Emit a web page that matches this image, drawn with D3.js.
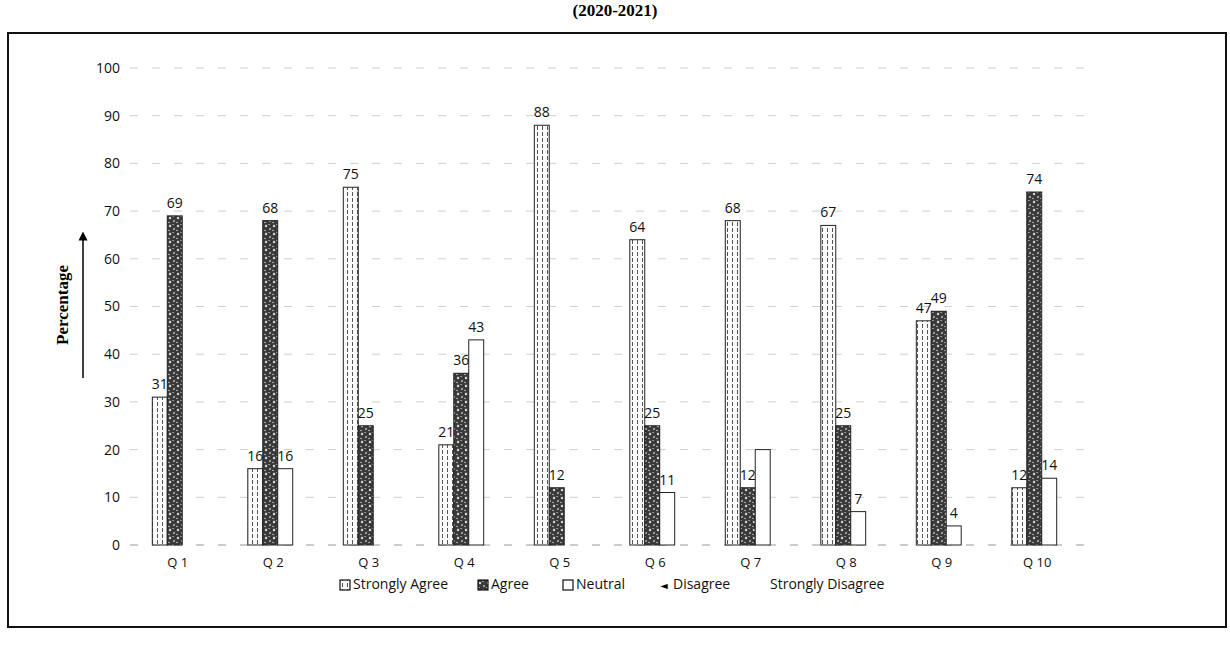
<!DOCTYPE html>
<html>
<head>
<meta charset="utf-8">
<script src="https://cdn.jsdelivr.net/npm/d3@7"></script>
<style>
  body { margin: 0; background: #fff; }
  svg text { font-family: "Open Sans", "DejaVu Sans", sans-serif; }
</style>
</head>
<body>
<div id="chart"></div>
<script>
const width = 1230;
const height = 647;

// values
const questions = ["Q 1", "Q 2", "Q 3", "Q 4", "Q 5", "Q 6", "Q 7", "Q 8", "Q 9", "Q 10"];
const stronglyAgree = [31, 16, 75, 21, 88, 64, 68, 67, 47, 12];
const agree = [69, 68, 25, 36, 12, 25, 12, 25, 49, 74];
const neutral = [0, 16, 0, 43, 0, 11, 20, 7, 4, 14];
const disagree = [0, 0, 0, 0, 0, 0, 0, 0, 0, 0];
const stronglyDisagree = [0, 0, 0, 0, 0, 0, 0, 0, 0, 0];
const yTicks = [0, 10, 20, 30, 40, 50, 60, 70, 80, 90, 100];
const seriesNames = ["Strongly Agree", "Agree", "Neutral", "Disagree", "Strongly Disagree"];
// Q7 neutral carries no label in the picture
const unlabeled = ["Q 7|Neutral"];

const seriesValues = [stronglyAgree, agree, neutral, disagree, stronglyDisagree];
const drawn = ["Strongly Agree", "Agree", "Neutral"];

const svg = d3.select("#chart")
  .append("svg")
  .attr("width", width)
  .attr("height", height);

// fill patterns
const defs = svg.append("defs");

const stripes = defs.append("pattern")
  .attr("id", "pat-sa")
  .attr("patternUnits", "userSpaceOnUse")
  .attr("width", 5)
  .attr("height", 6);
stripes.append("rect").attr("width", 5).attr("height", 6).attr("fill", "#fafafa");
stripes.append("line")
  .attr("x1", 2.5).attr("x2", 2.5).attr("y1", 0).attr("y2", 6)
  .attr("stroke", "#555").attr("stroke-width", 1).attr("stroke-dasharray", "4,2");

const speckle = defs.append("pattern")
  .attr("id", "pat-a")
  .attr("patternUnits", "userSpaceOnUse")
  .attr("width", 8)
  .attr("height", 8);
speckle.append("rect").attr("width", 8).attr("height", 8).attr("fill", "#3a3a3a");
speckle.append("circle").attr("cx", 2).attr("cy", 2).attr("r", 1.2).attr("fill", "#d8d8d8");
speckle.append("circle").attr("cx", 6).attr("cy", 5).attr("r", 1).attr("fill", "#bbb");
speckle.append("rect").attr("x", 4).attr("y", 0).attr("width", 2).attr("height", 1).attr("fill", "#999");
speckle.append("rect").attr("x", 0).attr("y", 6).attr("width", 2).attr("height", 1).attr("fill", "#aaa");

const fills = {
  "Strongly Agree": "url(#pat-sa)",
  "Agree": "url(#pat-a)",
  "Neutral": "#fff"
};

// frame
svg.append("rect")
  .attr("x", 8).attr("y", 33)
  .attr("width", 1218).attr("height", 594)
  .attr("fill", "none")
  .attr("stroke", "#111")
  .attr("stroke-width", 2);

// title (cut at the top of the scan)
svg.append("text")
  .attr("x", 615).attr("y", 16)
  .attr("text-anchor", "middle")
  .style("font-family", "'Liberation Serif', serif")
  .style("font-weight", "bold")
  .style("font-size", "17px")
  .text("(2020-2021)");

const x = d3.scaleBand()
  .domain(questions)
  .range([127, 1082])
  .paddingInner(0.53)
  .paddingOuter(0.265);

const xSub = d3.scaleBand()
  .domain(drawn)
  .range([0, x.bandwidth()]);

const y = d3.scaleLinear()
  .domain([0, 100])
  .range([545, 68]);

// gridlines
svg.append("g")
  .selectAll("line")
  .data(yTicks)
  .enter()
  .append("line")
  .attr("x1", 130)
  .attr("x2", 1092)
  .attr("y1", (d) => y(d))
  .attr("y2", (d) => y(d))
  .attr("stroke", (d) => (d === 0 ? "#999" : "#cfcfcf"))
  .attr("stroke-width", 1)
  .attr("stroke-dasharray", "8,14");

// y axis labels
const yAxis = d3.axisLeft(y).tickValues(yTicks).tickSize(0).tickPadding(0);
const yAxisGroup = svg.append("g")
  .attr("transform", "translate(120, 0)")
  .call(yAxis);
yAxisGroup.select(".domain").remove();
yAxisGroup.selectAll("text")
  .style("font-size", "14px")
  .attr("fill", "#111");

// x axis labels
const xAxis = d3.axisBottom(x).tickSize(0).tickPadding(0);
const xAxisGroup = svg.append("g")
  .attr("transform", "translate(3, 558)")
  .call(xAxis);
xAxisGroup.select(".domain").remove();
xAxisGroup.selectAll("text")
  .style("font-size", "13px")
  .attr("fill", "#111");

// y title with arrow
svg.append("text")
  .attr("transform", "translate(68, 305) rotate(-90)")
  .attr("text-anchor", "middle")
  .style("font-family", "'Liberation Serif', serif")
  .style("font-weight", "bold")
  .style("font-size", "17px")
  .text("Percentage");

defs.append("marker")
  .attr("id", "arrow")
  .attr("viewBox", "0 0 10 10")
  .attr("refX", 5).attr("refY", 5)
  .attr("markerWidth", 6).attr("markerHeight", 7)
  .attr("orient", "auto")
  .append("path")
  .attr("d", "M0,0 L10,5 L0,10 z")
  .attr("fill", "#000");

svg.append("line")
  .attr("x1", 83).attr("x2", 83)
  .attr("y1", 378).attr("y2", 236)
  .attr("stroke", "#000")
  .attr("stroke-width", 1.5)
  .attr("marker-end", "url(#arrow)");

// bars
const rows = [];
questions.forEach(function (q, i) {
  drawn.forEach(function (s) {
    const v = seriesValues[seriesNames.indexOf(s)][i];
    if (v > 0) rows.push({ q: q, series: s, value: v });
  });
});

const bars = svg.append("g");
bars.selectAll("rect")
  .data(rows)
  .enter()
  .append("rect")
  .attr("x", (d) => x(d.q) + xSub(d.series))
  .attr("y", (d) => y(d.value))
  .attr("width", xSub.bandwidth())
  .attr("height", (d) => y(0) - y(d.value))
  .attr("fill", (d) => fills[d.series])
  .attr("stroke", "#222")
  .attr("stroke-width", 1);

bars.selectAll("text")
  .data(rows.filter((d) => unlabeled.indexOf(d.q + "|" + d.series) < 0))
  .enter()
  .append("text")
  .attr("x", (d) => x(d.q) + xSub(d.series) + xSub.bandwidth() / 2)
  .attr("y", (d) => y(d.value) - 8)
  .attr("text-anchor", "middle")
  .style("font-size", "14px")
  .attr("fill", "#111")
  .text((d) => d.value);

// legend
const legendX = [340, 478, 563, 660, 770];
const legend = svg.append("g").attr("transform", "translate(0, 589)");

seriesNames.forEach(function (name, i) {
  const g = legend.append("g").attr("transform", `translate(${legendX[i]}, 0)`);
  let tx = 13;
  if (i < 3) {
    g.append("rect")
      .attr("x", 0).attr("y", -9)
      .attr("width", 10).attr("height", 10)
      .attr("fill", fills[name])
      .attr("stroke", "#111")
      .attr("stroke-width", 1.2);
  } else if (i === 3) {
    g.append("text")
      .attr("x", 0).attr("y", 0)
      .style("font-size", "10px")
      .text("\u25C4");
  } else {
    tx = 0;
  }
  g.append("text")
    .attr("x", tx).attr("y", 0)
    .style("font-size", "14px")
    .attr("fill", "#111")
    .text(name);
});
</script>
</body>
</html>
